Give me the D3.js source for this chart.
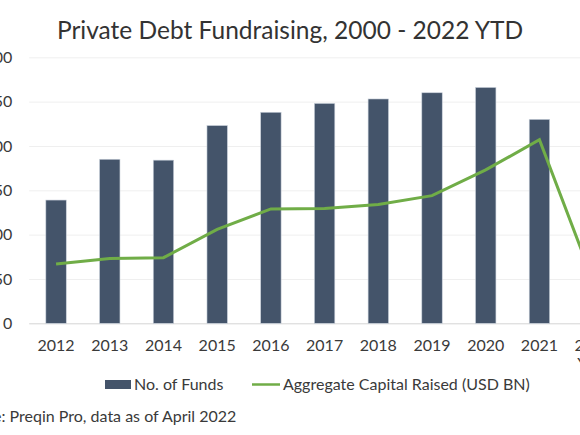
<!DOCTYPE html>
<html>
<head>
<meta charset="utf-8">
<script src="https://cdn.jsdelivr.net/npm/d3@7"></script>
<style>
  html, body { margin: 0; padding: 0; background: #fff; overflow: hidden; }
  svg { display: block; font-family: Lato, "Open Sans", sans-serif; }
</style>
</head>
<body>
<main></main>
<script>
// data
const years = ['2012', '2013', '2014', '2015', '2016', '2017', '2018', '2019', '2020', '2021', '2022'];
const xLabels = ['2012', '2013', '2014', '2015', '2016', '2017', '2018', '2019', '2020', '2021', '2022 YTD'];
const funds = [139, 185, 184, 223, 238, 248, 253, 260, 266, 230, 60];     // No. of Funds
const capital = [67, 73, 74, 106, 129, 129.5, 134, 144, 173, 207, 48];   // Aggregate Capital Raised (USD BN)
const yTicks = [0, 50, 100, 150, 200, 250, 300];

const width = 580;
const height = 435;
const barColor = '#44546a';
const lineColor = '#70ad47';
const textColor = '#3a3a3a';
const fontSize = 16;

const svg = d3.select('main')
  .append('svg')
  .attr('width', width)
  .attr('height', height);

// Scales (the plot runs past the right edge, the picture is a crop)
const xScale = d3.scaleBand()
  .domain(years)
  .range([29.2, 620])
  .paddingInner(0.62)
  .paddingOuter(0.31);

const yScale = d3.scaleLinear()
  .domain([0, 300])
  .range([323.3, 57.3]);

// y axis with gridlines
const yAxis = svg.append('g')
  .attr('transform', 'translate(29.2,0)')
  .call(d3.axisLeft(yScale)
    .tickValues(yTicks)
    .tickSize(-(620 - 29.2))
    .tickPadding(17));
yAxis.select('.domain').remove();
yAxis.selectAll('line')
  .attr('stroke', d => d === 0 ? '#d4d4d4' : '#efefef')
  .attr('stroke-width', 1);
yAxis.selectAll('text')
  .attr('fill', textColor)
  .attr('font-size', fontSize)
  .attr('font-family', 'Lato, sans-serif');

// bars
svg.selectAll('rect.bar')
  .data(years)
  .enter()
  .append('rect')
  .attr('class', 'bar')
  .attr('x', d => xScale(d))
  .attr('y', (d, i) => yScale(funds[i]))
  .attr('width', xScale.bandwidth())
  .attr('height', (d, i) => yScale(0) - yScale(funds[i]))
  .attr('fill', barColor)
  .attr('stroke', '#c9d0da')
  .attr('stroke-width', 0.6);

// line
const line = d3.line()
  .x((d, i) => xScale(years[i]) + xScale.bandwidth() / 2)
  .y(d => yScale(d));

svg.append('path')
  .datum(capital)
  .attr('d', line)
  .attr('fill', 'none')
  .attr('stroke', lineColor)
  .attr('stroke-width', 3);

// x axis labels
const xAxis = svg.append('g')
  .attr('transform', `translate(0,${yScale(0)})`)
  .call(d3.axisBottom(xScale)
    .tickSize(0)
    .tickPadding(16.3)
    .tickFormat((d, i) => xLabels[i]));
xAxis.select('.domain').remove();
xAxis.selectAll('text')
  .attr('fill', textColor)
  .attr('font-size', fontSize)
  .attr('font-family', 'Lato, sans-serif')
  .each(function (d, i) {
    const parts = xLabels[i].split(' ');
    if (parts.length > 1) {
      const t = d3.select(this).text(null);
      parts.forEach((p, j) => {
        t.append('tspan').attr('x', 0).attr('dy', j === 0 ? '0.71em' : '1.1em').text(p);
      });
    }
  });

// title
svg.append('text')
  .attr('x', 290)
  .attr('y', 39)
  .attr('text-anchor', 'middle')
  .attr('font-size', 24.5)
  .attr('fill', '#333')
  .text('Private Debt Fundraising, 2000 - 2022 YTD');

// legend
const legend = svg.append('g').attr('font-size', fontSize).attr('fill', textColor);
legend.append('rect')
  .attr('x', 105).attr('y', 380)
  .attr('width', 26).attr('height', 9)
  .attr('fill', barColor);
legend.append('text').attr('x', 134).attr('y', 389.5).text('No. of Funds');
legend.append('line')
  .attr('x1', 252).attr('x2', 280)
  .attr('y1', 384.5).attr('y2', 384.5)
  .attr('stroke', lineColor)
  .attr('stroke-width', 2.5);
legend.append('text').attr('x', 283).attr('y', 389.5).text('Aggregate Capital Raised (USD BN)');

// source note, cut by the left edge
const source = svg.append('g').attr('font-size', fontSize).attr('fill', textColor);
source.append('text').attr('x', 1.5).attr('y', 422).attr('text-anchor', 'end').text('Source');
source.append('text').attr('x', 1.5).attr('y', 422).text(': Preqin Pro, data as of April 2022');
</script>
</body>
</html>
